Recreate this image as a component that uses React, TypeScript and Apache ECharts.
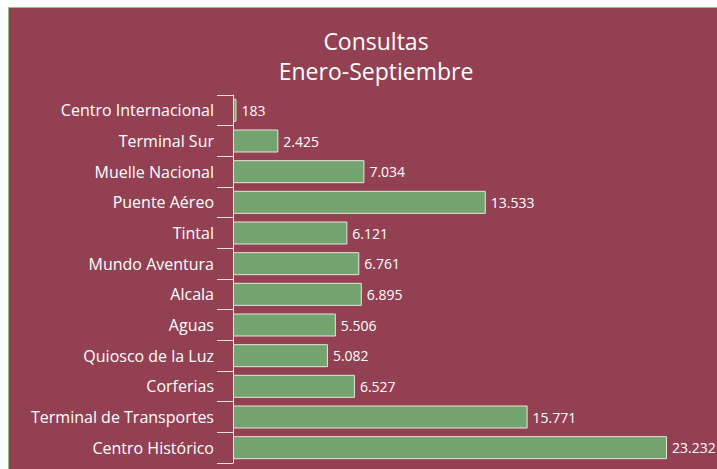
import React, { useEffect, useRef } from "react";
import * as echarts from "echarts";

const categories = [
  "Centro Internacional",
  "Terminal Sur",
  "Muelle Nacional",
  "Puente Aéreo",
  "Tintal",
  "Mundo Aventura",
  "Alcala",
  "Aguas",
  "Quiosco de la Luz",
  "Corferias",
  "Terminal de Transportes",
  "Centro Histórico",
];
const values = [183, 2425, 7034, 13533, 6121, 6761, 6895, 5506, 5082, 6527, 15771, 23232];
const titleLines = ["Consultas", "Enero-Septiembre"];

const BG = "#934053";
const BAR = "#73a470";
const LINE = "#e6e6dc";
const FONT = "'Open Sans', sans-serif";

function fmt(v: number): string {
  return String(v).replace(/\B(?=(\d{3})+(?!\d))/g, ".");
}

export default function App() {
  const ref = useRef<HTMLDivElement>(null);
  useEffect(() => {
    document.body.style.overflow = "hidden";
    document.documentElement.style.overflow = "hidden";
    const chart = echarts.init(ref.current!, null, { renderer: "svg" });
    chart.setOption({
      animation: false,
      backgroundColor: BG,
      graphic: titleLines.map((t, i) => ({
        type: "text",
        x: 367,
        y: 33 + i * 30,
        style: {
          text: t,
          fill: "#ffffff",
          font: `23px ${FONT}`,
          textAlign: "center",
          textVerticalAlign: "middle",
        },
      })),
      grid: { left: 224, top: 87, width: 467, height: 368 },
      xAxis: {
        type: "value",
        min: 0,
        max: 25000,
        show: false,
      },
      yAxis: {
        type: "category",
        data: categories,
        inverse: true,
        axisLine: { show: true, lineStyle: { color: LINE, width: 1 } },
        axisTick: { show: true, length: 16, lineStyle: { color: LINE, width: 1 } },
        axisLabel: { color: "#ffffff", fontSize: 16, fontFamily: FONT, margin: 19 },
        splitLine: { show: false },
      },
      series: [
        {
          type: "bar",
          data: values,
          barWidth: 23,
          itemStyle: { color: BAR, borderColor: LINE, borderWidth: 1 },
          label: {
            show: true,
            position: "right",
            distance: 5,
            color: "#ffffff",
            fontSize: 14,
            fontFamily: FONT,
            formatter: (p: any) => fmt(p.value),
          },
        },
      ],
    });
    return () => chart.dispose();
  }, []);
  return (
    <div
      style={{
        position: "fixed",
        left: 8,
        top: 7,
        width: 709,
        height: 462,
        boxSizing: "border-box",
        borderTop: "1px solid #8fbf8a",
        borderLeft: "1px solid #8fbf8a",
        background: BG,
      }}
    >
      <div ref={ref} style={{ width: 708, height: 461 }} />
    </div>
  );
}
